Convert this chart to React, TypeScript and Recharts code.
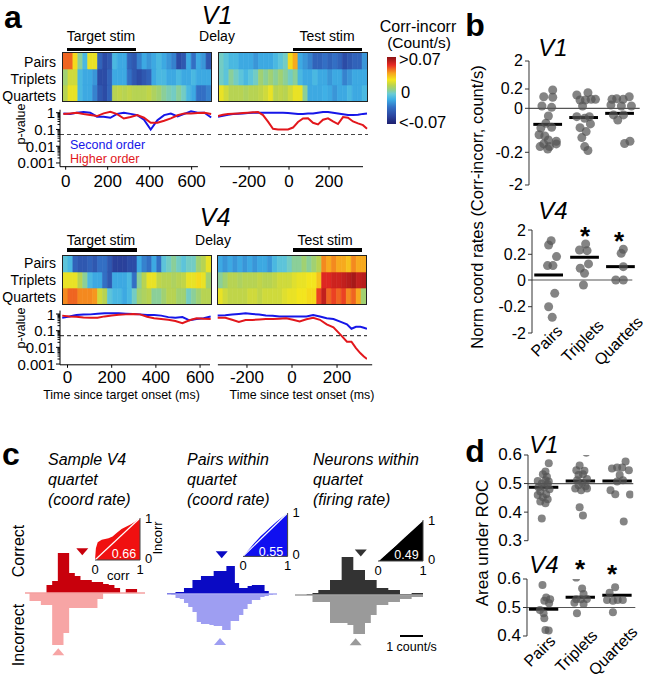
import React from 'react';
import {
  BarChart, Bar, Cell, XAxis, YAxis, LineChart, Line, ReferenceLine,
  ComposedChart, Area, AreaChart, ScatterChart, Scatter, ReferenceDot,
} from 'recharts';

const FONT = '"Liberation Sans", Arial, Helvetica, sans-serif';
const BLUE = '#1616e8';
const RED = '#e2171c';

// ---------- panel a: heat maps, corr - incorr (count/s), 30 bins per epoch
const V1L_PAIRS = [0.045, 0.045, 0.025, 0.0, -0.015, 0.02, 0.02, -0.04, -0.05, -0.045, -0.015, -0.02, -0.02, -0.04, -0.045, -0.03, -0.02, -0.025, -0.02, -0.015, -0.02, -0.025, -0.03, -0.05, -0.045, -0.02, -0.035, -0.02, -0.025, -0.045];
const V1L_TRIP = [0.005, 0.015, 0.015, -0.015, -0.02, -0.02, -0.025, -0.05, -0.05, -0.04, -0.02, -0.02, -0.02, -0.035, -0.045, -0.05, -0.045, -0.04, -0.02, -0.015, -0.015, -0.02, -0.02, -0.015, -0.02, -0.02, -0.015, -0.02, -0.02, -0.02];
const V1L_QUAR = [0.01, 0.02, 0.02, -0.015, -0.02, -0.02, -0.03, -0.045, -0.05, -0.04, 0.01, 0.012, 0.01, 0.012, 0.01, 0.01, 0.01, 0.012, 0.008, 0.005, 0.0, -0.003, -0.005, 0.0, -0.005, -0.015, -0.02, -0.035, -0.035, -0.03];
const V1R_PAIRS = [-0.005, -0.01, -0.015, -0.015, -0.02, -0.02, -0.02, -0.025, -0.02, -0.02, -0.02, -0.015, -0.01, -0.005, 0.025, 0.035, -0.02, -0.025, -0.03, -0.04, -0.04, -0.035, -0.04, -0.035, -0.04, -0.05, -0.045, -0.04, -0.04, -0.025];
const V1R_TRIP = [-0.005, -0.01, 0.0, -0.005, -0.01, -0.015, -0.01, -0.005, 0.005, 0.0, 0.005, 0.0, 0.005, 0.0, -0.005, 0.0, -0.015, -0.02, -0.02, -0.015, -0.02, -0.02, -0.025, -0.02, -0.02, -0.03, -0.025, -0.02, -0.02, -0.02];
const V1R_QUAR = [0.02, 0.015, 0.01, 0.01, 0.01, 0.008, 0.01, 0.01, 0.012, 0.015, 0.02, 0.01, 0.012, 0.01, 0.015, 0.02, 0.02, 0.0, -0.02, -0.02, -0.02, -0.018, -0.02, -0.025, -0.02, -0.02, -0.015, -0.02, -0.02, -0.015];
const V4L_PAIRS = [-0.01, -0.015, -0.04, -0.045, -0.045, -0.04, -0.045, -0.035, -0.035, -0.045, -0.055, -0.055, -0.055, -0.05, -0.05, -0.02, -0.03, -0.035, -0.02, -0.035, -0.01, -0.005, 0.0, -0.005, -0.01, -0.005, -0.005, 0.005, 0.01, 0.02];
const V4L_TRIP = [0.02, 0.02, 0.02, 0.01, 0.0, -0.015, -0.02, -0.02, -0.035, -0.045, -0.02, -0.02, -0.02, -0.015, -0.035, 0.0, 0.01, 0.02, 0.02, 0.012, 0.01, 0.01, 0.008, 0.01, 0.012, 0.02, 0.02, 0.025, 0.02, 0.005];
const V4L_QUAR = [0.04, 0.045, 0.045, 0.04, 0.04, 0.04, 0.038, 0.015, 0.01, -0.01, -0.015, -0.015, -0.02, -0.015, -0.005, 0.005, 0.008, 0.01, 0.0, 0.0, 0.005, 0.01, 0.01, 0.005, 0.005, -0.005, 0.0, 0.005, 0.01, 0.01];
const V4R_PAIRS = [-0.02, -0.025, -0.02, -0.025, -0.02, -0.025, -0.02, -0.025, -0.02, -0.02, -0.025, -0.015, -0.01, -0.01, -0.005, 0.0, 0.0, 0.005, 0.0, 0.005, 0.01, 0.04, 0.035, 0.04, 0.035, 0.035, 0.03, 0.04, 0.035, 0.035];
const V4R_TRIP = [0.0, 0.005, 0.01, 0.01, 0.008, 0.01, 0.01, 0.01, 0.012, 0.01, 0.01, 0.012, 0.015, 0.015, 0.015, 0.018, 0.02, 0.02, 0.022, 0.022, 0.03, 0.055, 0.055, 0.058, 0.058, 0.06, 0.062, 0.065, 0.06, 0.062];
const V4R_QUAR = [0.02, 0.015, 0.012, 0.012, 0.012, 0.012, 0.015, 0.015, 0.012, 0.015, 0.015, 0.015, 0.015, 0.018, 0.02, 0.02, 0.022, 0.022, 0.025, 0.025, 0.05, 0.06, 0.045, 0.05, 0.045, 0.05, 0.04, 0.045, 0.035, 0.005];

// ---------- panel a: p-values (second order = blue, higher order = red)
const V1L_T = [-11, 21, 53, 85, 117, 149, 181, 213, 245, 277, 309, 341, 373, 405, 437, 469, 501, 533, 565, 597, 629, 661, 693];
const V1L_B = [0.91, 0.83, 1.0, 1.1, 1.0, 0.58, 0.58, 0.5, 0.85, 1.0, 0.85, 0.72, 0.38, 0.1, 0.36, 0.72, 0.9, 0.6, 0.85, 1.2, 1.0, 1.0, 0.52];
const V1L_R = [0.83, 0.91, 1.0, 0.83, 0.72, 0.63, 0.91, 1.15, 0.83, 0.45, 0.55, 0.72, 0.5, 0.25, 0.25, 0.33, 0.46, 0.7, 0.91, 0.91, 0.95, 1.0, 0.83];
const V1R_T = [-355, -330, -305, -280, -255, -230, -205, -180, -155, -130, -105, -80, -55, -30, -5, 20, 45, 70, 95, 120, 145, 170, 195, 220, 245, 270, 295, 320, 345, 370, 390];
const V1R_B = [0.58, 0.65, 0.75, 0.83, 0.87, 0.91, 0.95, 1.0, 1.0, 1.0, 1.0, 1.0, 1.0, 1.0, 0.95, 0.9, 0.83, 0.85, 0.9, 0.91, 1.0, 1.1, 1.1, 1.0, 0.9, 0.8, 0.72, 0.72, 0.75, 0.85, 0.9];
const V1R_R = [0.63, 0.75, 0.83, 0.88, 0.91, 0.95, 1.0, 1.05, 1.1, 0.72, 0.29, 0.11, 0.1, 0.1, 0.1, 0.13, 0.28, 0.45, 0.46, 0.25, 0.2, 0.38, 0.46, 0.3, 0.21, 0.55, 0.5, 0.3, 0.23, 0.18, 0.11];
const V4L_T = [-24, 8, 40, 72, 104, 136, 168, 200, 232, 264, 296, 328, 360, 392, 424, 456, 488, 520, 552, 584, 616, 648];
const V4L_B = [0.6, 0.7, 0.87, 0.92, 0.95, 1.05, 1.1, 1.1, 1.1, 1.05, 1.0, 0.95, 0.87, 0.87, 0.8, 0.65, 0.6, 0.65, 0.42, 0.5, 0.55, 0.7];
const V4L_R = [0.8, 0.72, 0.69, 0.62, 0.6, 0.6, 0.72, 0.82, 0.9, 0.95, 1.0, 0.95, 0.69, 0.55, 0.5, 0.45, 0.38, 0.28, 0.42, 0.55, 0.52, 0.5];
const V4R_T = [-330, -296, -266, -236, -206, -176, -146, -116, -86, -56, -26, 4, 34, 64, 94, 124, 154, 184, 214, 244, 264, 284, 304, 319, 333];
const V4R_B = [0.8, 0.85, 0.92, 1.0, 1.1, 1.0, 0.92, 0.82, 0.78, 0.72, 0.7, 0.7, 0.7, 0.72, 0.87, 0.7, 0.56, 0.5, 0.35, 0.24, 0.13, 0.17, 0.17, 0.15, 0.13];
const V4R_R = [0.6, 0.6, 0.45, 0.33, 0.44, 0.44, 0.47, 0.5, 0.5, 0.52, 0.55, 0.45, 0.36, 0.48, 0.6, 0.45, 0.24, 0.16, 0.06, 0.022, 0.022, 0.009, 0.0044, 0.0028, 0.002];

// ---------- panel b: norm coord rates, [jitter, value]
const CATS = ['Pairs', 'Triplets', 'Quartets'];
const B_TICKS = [-2, -0.2, 0, 0.2, 2];
const B_V1_PAIRS = [[0.14, 0.19], [-0.11, 0.12], [0.14, 0.114], [-0.16, 0.024], [0.11, 0.01], [0.02, -0.035], [-0.05, -0.068], [-0.19, -0.09], [0.11, -0.086], [-0.24, -0.12], [-0.08, -0.126], [0.02, -0.144], [0.24, -0.15], [-0.11, -0.162], [0.24, -0.162], [-0.21, -0.174], [0.05, -0.174], [0, -0.185]];
const B_V1_TRIP = [[-0.19, 0.138], [0.12, 0.162], [-0.1, 0.086], [0.05, 0.086], [0.21, 0.093], [0.33, 0.093], [-0.03, 0.024], [-0.19, -0.038], [0.03, -0.045], [0.16, -0.038], [0.19, -0.071], [-0.1, -0.088], [0.07, -0.106], [-0.05, -0.133], [0.03, -0.174], [0.12, -0.192]];
const B_V1_QUAR = [[-0.21, 0.093], [-0.08, 0.1], [0.1, 0.093], [0.27, 0.12], [-0.24, 0.034], [0.05, 0.024], [0.33, 0.024], [-0.17, -0.03], [0.11, -0.03], [-0.05, -0.053], [0.29, -0.15], [0.14, -0.16]];
const B_V1_MEANS = [-0.073, -0.042, -0.023];
const B_V4_PAIRS = [[0.07, 1.21], [0, 0.89], [0.22, 0.182], [-0.03, 0.112], [0.12, 0.112], [0.17, -0.1], [0, -0.2], [0.1, -0.92]];
const B_V4_TRIP = [[0.03, 0.96], [-0.14, 0.52], [0.07, 0.47], [0.11, 0.125], [-0.12, 0.091], [0, 0.052], [-0.03, -0.0375]];
const B_V4_QUAR = [[0.08, 0.57], [0.02, 0.27], [0.08, 0.104], [-0.13, 0], [0.08, 0]];
const B_V4_MEANS = [0.039, 0.177, 0.104];

// ---------- panel d: area under ROC, [jitter, value]
const D_V1_PAIRS = [[0.14, 0.571], [0.05, 0.542], [-0.02, 0.533], [0.09, 0.524], [-0.16, 0.509], [0.05, 0.512], [-0.05, 0.5], [0.11, 0.498], [-0.14, 0.487], [0.02, 0.487], [0.16, 0.48], [-0.09, 0.472], [0.07, 0.463], [-0.16, 0.46], [-0.02, 0.452], [0.11, 0.445], [-0.09, 0.437], [0.05, 0.431], [0.14, 0.507], [-0.05, 0.378]];
const D_V1_TRIP = [[0.16, 0.608], [-0.02, 0.563], [-0.11, 0.547], [0.11, 0.545], [-0.05, 0.53], [0.07, 0.533], [0.18, 0.516], [-0.09, 0.512], [0.05, 0.503], [-0.05, 0.494], [0.14, 0.491], [-0.14, 0.483], [0.02, 0.477], [0.18, 0.483], [-0.02, 0.417], [0.07, 0.388]];
const D_V1_QUAR = [[0.23, 0.577], [0, 0.556], [0.14, 0.556], [-0.14, 0.553], [0.32, 0.547], [0.07, 0.53], [0, 0.507], [0.16, 0.512], [-0.18, 0.477], [-0.05, 0.463], [0.35, 0.462], [0.18, 0.367]];
const D_V1_MEANS = [0.487, 0.509, 0.509];
const D_V4_PAIRS = [[-0.03, 0.579], [0.07, 0.535], [0.18, 0.529], [0.02, 0.524], [0.15, 0.515], [-0.1, 0.491], [0, 0.48], [0.02, 0.462], [0.05, 0.421], [0.14, 0.419]];
const D_V4_TRIP = [[-0.11, 0.605], [0.05, 0.567], [0.09, 0.547], [-0.11, 0.529], [0.02, 0.529], [0.18, 0.53], [-0.16, 0.517], [0.09, 0.512], [-0.09, 0.48]];
const D_V4_QUAR = [[-0.05, 0.571], [-0.2, 0.552], [-0.27, 0.526], [-0.11, 0.524], [0.02, 0.526], [0.16, 0.526], [-0.11, 0.483]];
const D_V4_MEANS = [0.494, 0.536, 0.543];

// ---------- panel c: histograms (counts per bin), correct / incorrect
const RED_CORR = [0, 0, 0, 8, 12, 40, 40, 20, 17, 13, 13, 11, 11, 9, 8, 5, 0, 4, 4, 0];
const RED_INC = [8, 8, 12, 12, 52, 52, 40, 15, 15, 15, 15, 15, 6, 0, 0, 0, 0, 0, 0, 0];
const BLUE_CORR = [1, 1, 2, 2, 6, 6, 14, 14, 18, 18, 18, 23, 23, 23, 28, 28, 11, 6, 6, 8, 9, 9, 9, 3, 0, 0];
const BLUE_INC = [0, 1, 4, 5, 9, 13, 18, 28, 30, 30, 31, 32, 32, 36, 36, 27, 27, 21, 15, 10, 6, 6, 3, 2, 1, 0];
const BLACK_CORR = [0, 0, 1, 2, 5, 5, 15, 15, 38, 38, 25, 25, 15, 15, 7, 7, 5, 5, 1, 1, 2, 2];
const BLACK_INC = [0, 0, 0, 7, 7, 7, 28, 28, 28, 30, 39, 39, 28, 20, 10, 10, 7, 7, 4, 4, 2, 2];
const HIST_MEANS = { red: [2.33, 1.27], blue: [2.58, 2.5], black: [2.82, 2.6] };

// ROC curves for the insets
const RED_ROC_X = [0, 0.02, 0.06, 0.15, 0.3, 0.39, 0.48, 0.59, 0.7, 0.81, 0.93, 1];
const RED_ROC_Y = [0, 0.28, 0.42, 0.48, 0.52, 0.56, 0.64, 0.74, 0.8, 0.86, 0.94, 1];
const BLUE_ROC_X = [0, 0.1, 0.25, 0.4, 0.5, 0.6, 0.75, 0.9, 1];
const BLUE_ROC_Y = [0, 0.12, 0.3, 0.47, 0.56, 0.66, 0.8, 0.92, 1];
const BLACK_ROC_X = [0, 0.2, 0.4, 0.6, 0.8, 1];
const BLACK_ROC_Y = [0, 0.19, 0.38, 0.6, 0.79, 1];

// jet-like colormap, sampled from the colour bar
const CMAP = [
  [0.0, 29, 31, 110], [0.12, 43, 69, 160], [0.25, 51, 111, 196], [0.37, 62, 176, 230],
  [0.45, 105, 203, 214], [0.52, 152, 208, 128], [0.58, 188, 212, 76], [0.66, 245, 230, 28],
  [0.76, 247, 163, 30], [0.88, 232, 42, 36], [1.0, 139, 18, 20],
];
function cmapAt(t: number) {
  for (let i = 1; i < CMAP.length; i++) {
    if (t <= CMAP[i][0]) {
      const a = CMAP[i - 1], b = CMAP[i];
      const f = (t - a[0]) / (b[0] - a[0]);
      const c = [1, 2, 3].map((k) => Math.round(a[k] + f * (b[k] - a[k])));
      return `rgb(${c[0]},${c[1]},${c[2]})`;
    }
  }
  return 'rgb(139,18,20)';
}
const heat = (v: number) => cmapAt(Math.max(0, Math.min(1, (v + 0.07) / 0.14)));

const LOG_MAJOR = [0.001, 0.01, 0.1, 1];
const LOG_TICKS: number[] = [];
[0.001, 0.01, 0.1].forEach((d) => { for (let m = 1; m < 10; m++) LOG_TICKS.push(+(m * d).toPrecision(3)); });
LOG_TICKS.push(1);

function Txt({ x, y, size = 14, children, anchor = 'middle', italic = false, bold = false, color = '#000', rotate = 0 }: any) {
  const tx = anchor === 'middle' ? '-50%' : anchor === 'end' ? '-100%' : '0';
  return (
    <div style={{
      position: 'absolute', left: x, top: y, fontSize: size, lineHeight: 1, whiteSpace: 'nowrap', color,
      fontStyle: italic ? 'italic' : 'normal', fontWeight: bold ? 'bold' : 'normal',
      transform: `translate(${tx},-50%)${rotate ? ` rotate(${rotate}deg)` : ''}`,
    }}>{children}</div>
  );
}

function Heatmap({ left, top, rows }: any) {
  const data = rows[0].map((_: number, i: number) => ({ i, p: 1, t: 1, q: 1 }));
  const keys = ['q', 't', 'p'];
  return (
    <div style={{ position: 'absolute', left, top, width: 150, height: 50, border: '1px solid #222', boxSizing: 'border-box' }}>
      <BarChart width={148} height={48} data={data} margin={{ top: 0, right: 0, bottom: 0, left: 0 }} barCategoryGap={0} barGap={0}>
        <XAxis dataKey="i" hide />
        <YAxis hide domain={[0, 3]} />
        {keys.map((k, r) => (
          <Bar key={k} dataKey={k} stackId="s" isAnimationActive={false}>
            {rows[2 - r].map((v: number, i: number) => <Cell key={i} fill={heat(v)} stroke={heat(v)} strokeWidth={0.6} />)}
          </Bar>
        ))}
      </BarChart>
    </div>
  );
}

const LogTick = (p: any) => {
  const v = p.payload.value;
  const major = LOG_MAJOR.includes(v);
  return (
    <g>
      <line x1={p.x} x2={p.x - (major ? 4 : 2.5)} y1={p.y} y2={p.y} stroke="#000" />
      {major && <text x={p.x - 5} y={p.y} textAnchor="end" dominantBaseline="central" fontSize={15} fill="#000">{String(v)}</text>}
    </g>
  );
};

const XTick = (p: any) => (
  <g>
    <line x1={p.x} x2={p.x} y1={p.y} y2={p.y + 3} stroke="#000" />
    <text x={p.x} y={p.y + p.oy} textAnchor="middle" dominantBaseline="central" fontSize={17} fill="#000">{p.payload.value}</text>
  </g>
);

function PChart({ left, top, width, mt, mr, plotH, xh, showY, xDomain, yDomain, t, blue, red, xTicks, axisSeg, oy }: any) {
  const data = t.map((tt: number, i: number) => ({ t: tt, b: blue[i], r: red[i] }));
  return (
    <div style={{ position: 'absolute', left, top }}>
      <LineChart width={width} height={mt + plotH + xh} data={data} margin={{ top: mt, right: mr, bottom: 0, left: 0 }}>
        <XAxis dataKey="t" type="number" domain={xDomain} allowDataOverflow ticks={xTicks} interval={0} height={xh}
          axisLine={false} tickLine={false} tickSize={0} tickMargin={0} tick={<XTick oy={oy} />} />
        <YAxis type="number" scale="log" domain={yDomain} allowDataOverflow hide={!showY} width={60} ticks={LOG_TICKS}
          interval={0} axisLine={{ stroke: '#000' }} tickLine={false} tickSize={0} tickMargin={0} tick={<LogTick />} />
        <ReferenceLine y={0.05} stroke="#444" strokeDasharray="4 3" strokeWidth={1.2} />
        <ReferenceLine segment={[{ x: axisSeg[0], y: yDomain[0] }, { x: axisSeg[1], y: yDomain[0] }]} stroke="#000" ifOverflow="visible" />
        <Line type="linear" dataKey="b" stroke={BLUE} strokeWidth={2} dot={false} isAnimationActive={false} />
        <Line type="linear" dataKey="r" stroke={RED} strokeWidth={2} dot={false} isAnimationActive={false} />
      </LineChart>
    </div>
  );
}

const ValTick = (p: any) => (
  <g>
    <line x1={p.x} x2={p.x - 4} y1={p.y} y2={p.y} stroke="#333" />
    <text x={p.x - 6} y={p.y} textAnchor="end" dominantBaseline="central" fontSize={p.fs} fill="#000">{p.labels[p.index]}</text>
  </g>
);

const CatTick = (p: any) => {
  const cx = p.x + p.ox, cy = p.y + p.oy;
  return (
    <text x={cx} y={cy} textAnchor="middle" dominantBaseline="central" fontSize={16} fill="#000"
      transform={`rotate(-45 ${cx} ${cy})`}>{CATS[p.payload.value - 1]}</text>
  );
};

function DotChart({ left, plotTop, width, mr, plotH, xh = 0, xDomain, yDomain, yTicks, yLabels, groups, means, refY, f, r, fs, showCats, ox = 0, oy = 0 }: any) {
  const pts = groups.flatMap((g: number[][], gi: number) => g.map(([dx, v]) => ({ x: gi + 1 + dx, y: f(v) })));
  const dot = (p: any) => <circle cx={p.cx} cy={p.cy} r={r} fill="#555" fillOpacity={0.72} />;
  const mt = 12;
  const mb = showCats ? 0 : 12;
  return (
    <div style={{ position: 'absolute', left, top: plotTop - mt }}>
      <ScatterChart width={width} height={mt + plotH + xh + mb} margin={{ top: mt, right: mr, bottom: mb, left: 0 }}>
        <XAxis type="number" dataKey="x" domain={xDomain} allowDataOverflow hide={!showCats} height={xh} ticks={[1, 2, 3]}
          interval={0} axisLine={false} tickLine={false} tickSize={0} tickMargin={0} tick={<CatTick ox={ox} oy={oy} />} />
        <YAxis type="number" dataKey="y" domain={yDomain} allowDataOverflow width={60} ticks={yTicks.map(f)} interval={0}
          axisLine={{ stroke: '#333' }} tickLine={false} tickSize={0} tickMargin={0} tick={<ValTick labels={yLabels} fs={fs} />} />
        <ReferenceLine y={f(refY)} stroke="#555" strokeWidth={1.2} />
        <Scatter data={pts} shape={dot} isAnimationActive={false} />
        {means.map((m: number, i: number) => (
          <ReferenceLine key={i} segment={[{ x: i + 0.6, y: f(m) }, { x: i + 1.4, y: f(m) }]} stroke="#000" strokeWidth={3} ifOverflow="visible" />
        ))}
      </ScatterChart>
    </div>
  );
}

// axis layout of panel b (the printed axis is not linear): px above the -2 tick
const B1_AXIS_PX = [0, 32.7, 76.7, 96, 124];
const B4_AXIS_PX = [0, 26.3, 53, 78.7, 103];
const warp = (px: number[]) => (v: number) => {
  for (let i = 1; i < B_TICKS.length; i++) {
    if (v <= B_TICKS[i]) {
      const f = (v - B_TICKS[i - 1]) / (B_TICKS[i] - B_TICKS[i - 1]);
      return px[i - 1] + f * (px[i] - px[i - 1]);
    }
  }
  return px[px.length - 1];
};
const ident = (v: number) => v;

const tri = (color: string, down: boolean) => (p: any) => {
  const { cx, cy } = p;
  const pts = down
    ? `${cx - 6},${cy - 3.5} ${cx + 6},${cy - 3.5} ${cx},${cy + 3.5}`
    : `${cx - 6},${cy + 3.5} ${cx + 6},${cy + 3.5} ${cx},${cy - 3.5}`;
  return <polygon points={pts} fill={color} />;
};

function Hist({ left, top, width, xDomain, binW, corr, inc, dark, light, base, means, levelC, levelI, scaleBar }: any) {
  const data = corr.map((c: number, k: number) => ({ x: k * binW, c, i: -inc[k] }));
  data.push({ x: corr.length * binW, c: 0, i: 0 });
  return (
    <div style={{ position: 'absolute', left, top }}>
      <ComposedChart width={width} height={116} data={data} margin={{ top: 0, right: 0, bottom: 0, left: 0 }}>
        <XAxis type="number" dataKey="x" domain={xDomain} allowDataOverflow hide />
        <YAxis type="number" domain={[-66, 50]} allowDataOverflow hide />
        <Area type="stepAfter" dataKey="c" fill={dark} fillOpacity={1} stroke="none" baseValue={0} isAnimationActive={false} />
        <Area type="stepAfter" dataKey="i" fill={light} fillOpacity={1} stroke="none" baseValue={0} isAnimationActive={false} />
        <ReferenceLine y={0} stroke={base} strokeWidth={1.5} />
        <ReferenceDot x={means[0]} y={levelC} shape={tri(dark, true)} ifOverflow="visible" />
        <ReferenceDot x={means[1]} y={levelI} shape={tri(light, false)} ifOverflow="visible" />
        {scaleBar && <ReferenceLine segment={[{ x: 4.5, y: -41 }, { x: 5.5, y: -41 }]} stroke="#000" strokeWidth={2} ifOverflow="visible" />}
      </ComposedChart>
    </div>
  );
}

const RocXTick = (p: any) => (
  <text x={p.x} y={p.y + 9} textAnchor="middle" dominantBaseline="central" fontSize={13} fill="#000">{p.payload.value}</text>
);
const RocYTick = (p: any) => (
  <text x={p.x + 5} y={p.payload.value === 0 ? p.y - 2 : p.y} textAnchor="start" dominantBaseline="central" fontSize={13} fill="#000">{p.payload.value}</text>
);

function Roc({ pl, pt, w, h, xs, ys, color }: any) {
  const data = xs.map((x: number, i: number) => ({ x, y: ys[i] }));
  return (
    <div style={{ position: 'absolute', left: pl - 7, top: pt - 8 }}>
      <AreaChart width={7 + w + 16} height={8 + h + 18} data={data} margin={{ top: 8, right: 0, bottom: 0, left: 7 }}>
        <XAxis type="number" dataKey="x" domain={[0, 1]} ticks={[0, 1]} interval={0} height={18} axisLine={{ stroke: '#444' }}
          tickLine={false} tickSize={0} tickMargin={0} tick={<RocXTick />} />
        <YAxis orientation="right" type="number" domain={[0, 1]} ticks={[0, 1]} interval={0} width={16} axisLine={{ stroke: '#444' }}
          tickLine={false} tickSize={0} tickMargin={0} tick={<RocYTick />} />
        <Area type="linear" dataKey="y" fill={color} fillOpacity={1} stroke="none" baseValue={0} isAnimationActive={false} />
        <ReferenceLine segment={[{ x: 0, y: 0 }, { x: 1, y: 1 }]} stroke="#fff" strokeWidth={1.2} />
      </AreaChart>
    </div>
  );
}

function ColorBar({ left, top, w, h }: any) {
  const stops = CMAP.map((s) => s[0]);
  return (
    <svg style={{ position: 'absolute', left, top }} width={w} height={h}>
      <defs>
        <linearGradient id="cbar" x1="0" y1="1" x2="0" y2="0">
          {stops.map((t, i) => <stop key={i} offset={t} stopColor={cmapAt(t)} />)}
        </linearGradient>
      </defs>
      <rect x={0} y={0} width={w} height={h} fill="url(#cbar)" />
    </svg>
  );
}

const StimBar = ({ x1, x2, y }: any) => (
  <div style={{ position: 'absolute', left: x1, top: y - 1.75, width: x2 - x1, height: 3.5, background: '#000' }} />
);

export default function App() {
  return (
    <div style={{ position: 'absolute', left: 0, top: 0, width: 647, height: 678, background: '#fff', fontFamily: FONT, overflow: 'hidden' }}>
      {/* ---------- panel a ---------- */}
      <Txt x={13} y={17} size={32} bold>a</Txt>
      <Txt x={217} y={14.5} size={25} italic>V1</Txt>
      <Txt x={101} y={36} size={14}>Target stim</Txt>
      <Txt x={217} y={36} size={14}>Delay</Txt>
      <Txt x={327} y={36} size={14}>Test stim</Txt>
      <StimBar x1={66.7} x2={136} y={49.3} />
      <StimBar x1={292.7} x2={361.7} y={49.3} />
      <Txt x={56} y={61.7} anchor="end">Pairs</Txt>
      <Txt x={56} y={79} anchor="end">Triplets</Txt>
      <Txt x={56} y={95.7} anchor="end">Quartets</Txt>
      <Heatmap left={62} top={52} rows={[V1L_PAIRS, V1L_TRIP, V1L_QUAR]} />
      <Heatmap left={218} top={52} rows={[V1R_PAIRS, V1R_TRIP, V1R_QUAR]} />

      <Txt x={418} y={27} size={16}>Corr-incorr</Txt>
      <Txt x={419} y={43} size={15.5}>(Count/s)</Txt>
      <ColorBar left={387} top={57} w={9} h={67} />
      <Txt x={399} y={59} size={16.5} anchor="start">&gt;0.07</Txt>
      <Txt x={401} y={92} size={16.5} anchor="start">0</Txt>
      <Txt x={399} y={122} size={16.5} anchor="start">&lt;-0.07</Txt>

      <PChart left={0} top={100} width={215} mt={9.75} mr={3} plotH={56.95} xh={33.3} showY xDomain={[-27, 697]}
        yDomain={[0.0006, 1.5]} t={V1L_T} blue={V1L_B} red={V1L_R} xTicks={[0, 200, 400, 600]} axisSeg={[-27, 630]} oy={15} />
      <PChart left={218} top={100} width={150} mt={9.75} mr={0} plotH={56.95} xh={33.3} showY={false} xDomain={[-355, 395]}
        yDomain={[0.0006, 1.5]} t={V1R_T} blue={V1R_B} red={V1R_R} xTicks={[-200, 0, 200]} axisSeg={[-345, 370]} oy={15} />
      <Txt x={21} y={124} size={12.5} rotate={-90}>p-value</Txt>
      <Txt x={70} y={144.5} size={12.5} anchor="start" color={BLUE}>Second order</Txt>
      <Txt x={70} y={158.5} size={12.5} anchor="start" color={RED}>Higher order</Txt>

      <Txt x={215} y={217} size={25} italic>V4</Txt>
      <Txt x={101} y={240} size={14}>Target stim</Txt>
      <Txt x={213} y={240} size={14}>Delay</Txt>
      <Txt x={325} y={240} size={14}>Test stim</Txt>
      <StimBar x1={66.7} x2={136.7} y={250} />
      <StimBar x1={293} x2={361.7} y={250} />
      <Txt x={56} y={263.3} anchor="end">Pairs</Txt>
      <Txt x={56} y={280} anchor="end">Triplets</Txt>
      <Txt x={56} y={296.7} anchor="end">Quartets</Txt>
      <Heatmap left={62} top={255} rows={[V4L_PAIRS, V4L_TRIP, V4L_QUAR]} />
      <Heatmap left={217} top={255} rows={[V4R_PAIRS, V4R_TRIP, V4R_QUAR]} />

      <PChart left={0} top={300} width={215} mt={10.6} mr={3} plotH={54.2} xh={35.2} showY xDomain={[-34, 654]}
        yDomain={[0.0009, 1.6]} t={V4L_T} blue={V4L_B} red={V4L_R} xTicks={[0, 200, 400, 600]} axisSeg={[-34, 645]} oy={13} />
      <PChart left={217} top={300} width={158} mt={10.6} mr={8} plotH={54.2} xh={35.2} showY={false} xDomain={[-333, 333]}
        yDomain={[0.0009, 1.6]} t={V4R_T} blue={V4R_B} red={V4R_R} xTicks={[-200, 0, 200]} axisSeg={[-329, 356]} oy={13} />
      <Txt x={21} y={328} size={12.5} rotate={-90}>p-value</Txt>
      <Txt x={121.5} y={395} size={12.4}>Time since target onset (ms)</Txt>
      <Txt x={302} y={395} size={12.4}>Time since test onset (ms)</Txt>

      {/* ---------- panel b ---------- */}
      <Txt x={475} y={25} size={32} bold>b</Txt>
      <Txt x={553} y={48} size={24} italic>V1</Txt>
      <DotChart left={469.3} plotTop={61} width={175.7} mr={5} plotH={124} xDomain={[0.48, 3.56]} yDomain={[0, 124]}
        yTicks={B_TICKS} yLabels={['-2', '-0.2', '0', '0.2', '2']} groups={[B_V1_PAIRS, B_V1_TRIP, B_V1_QUAR]}
        means={B_V1_MEANS} refY={0} f={warp(B1_AXIS_PX)} r={4.5} fs={16} showCats={false} />
      <Txt x={553} y={211} size={24} italic>V4</Txt>
      <DotChart left={471.7} plotTop={230} width={175} mr={14.7} plotH={103} xh={45} xDomain={[0.537, 3.33]} yDomain={[0, 103]}
        yTicks={B_TICKS} yLabels={['-2', '-0.2', '0', '0.2', '2']} groups={[B_V4_PAIRS, B_V4_TRIP, B_V4_QUAR]}
        means={B_V4_MEANS} refY={0} f={warp(B4_AXIS_PX)} r={4.5} fs={16} showCats ox={-2} oy={8} />
      <Txt x={585} y={235.5} size={26} bold>*</Txt>
      <Txt x={619} y={240.5} size={26} bold>*</Txt>
      <Txt x={477} y={207} size={16.5} rotate={-90}>Norm coord rates (Corr-incorr, count/s)</Txt>

      {/* ---------- panel c ---------- */}
      <Txt x={11} y={453.5} size={32} bold>c</Txt>
      <Txt x={48} y={460} size={16} italic anchor="start">Sample V4</Txt>
      <Txt x={48} y={480} size={16} italic anchor="start">quartet</Txt>
      <Txt x={48} y={500} size={16} italic anchor="start">(coord rate)</Txt>
      <Txt x={187} y={460} size={16} italic anchor="start">Pairs within</Txt>
      <Txt x={187} y={480} size={16} italic anchor="start">quartet</Txt>
      <Txt x={187} y={500} size={16} italic anchor="start">(coord rate)</Txt>
      <Txt x={313} y={460} size={16} italic anchor="start">Neurons within</Txt>
      <Txt x={313} y={480} size={16} italic anchor="start">quartet</Txt>
      <Txt x={313} y={500} size={16} italic anchor="start">(firing rate)</Txt>
      <Txt x={19} y={551} size={16} rotate={-90}>Correct</Txt>
      <Txt x={19} y={635} size={16} rotate={-90}>Incorrect</Txt>

      <Hist left={25} top={543.3} width={120} xDomain={[-0.2, 5.1]} binW={0.25} corr={RED_CORR} inc={RED_INC}
        dark="#c8000c" light="#f7a5a5" base="#f4a0a0" means={HIST_MEANS.red} levelC={41.3} levelI={-58.7} />
      <Hist left={167} top={544.3} width={110.3} xDomain={[0, 5.2]} binW={0.2} corr={BLUE_CORR} inc={BLUE_INC}
        dark="#0a0ac4" light="#9e9ef2" base="#a8a8f2" means={HIST_MEANS.blue} levelC={39.3} levelI={-47.4} />
      <Hist left={295} top={545} width={128.3} xDomain={[0, 5.5]} binW={0.25} corr={BLACK_CORR} inc={BLACK_INC}
        dark="#333333" light="#9a9a9a" base="#a0a0a0" means={HIST_MEANS.black} levelC={42} levelI={-46.7} scaleBar />
      <Txt x={411.5} y={647} size={12.5}>1 count/s</Txt>

      <Roc pl={95} pt={518} w={45} h={42} xs={RED_ROC_X} ys={RED_ROC_Y} color="#f01010" />
      <Roc pl={242.7} pt={513.3} w={44.6} h={43.4} xs={BLUE_ROC_X} ys={BLUE_ROC_Y} color="#1010f0" />
      <Roc pl={378.3} pt={520} w={45} h={41} xs={BLACK_ROC_X} ys={BLACK_ROC_Y} color="#000000" />
      <Txt x={124} y={554} size={12.5} color="#fff">0.66</Txt>
      <Txt x={271} y={551.5} size={12.5} color="#fff">0.55</Txt>
      <Txt x={406.5} y={555} size={12.5} color="#fff">0.49</Txt>
      <Txt x={118.3} y={575} size={13}>corr</Txt>
      <Txt x={157} y={538} size={13} rotate={-90}>Incorr</Txt>

      {/* ---------- panel d ---------- */}
      <Txt x={475} y={451} size={32} bold>d</Txt>
      <Txt x={544} y={445} size={24} italic>V1</Txt>
      <DotChart left={467.7} plotTop={455} width={175.3} mr={10} plotH={85.7} xDomain={[0.575, 3.44]} yDomain={[0.3, 0.6]}
        yTicks={[0.3, 0.4, 0.5, 0.6]} yLabels={['0.3', '0.4', '0.5', '0.6']} groups={[D_V1_PAIRS, D_V1_TRIP, D_V1_QUAR]}
        means={D_V1_MEANS} refY={0.5} f={ident} r={4} fs={17} showCats={false} />
      <Txt x={544} y={564.5} size={24} italic>V4</Txt>
      <DotChart left={466.7} plotTop={579} width={178.3} mr={10} plotH={57} xh={42} xDomain={[0.548, 3.5]} yDomain={[0.4, 0.6]}
        yTicks={[0.4, 0.5, 0.6]} yLabels={['0.4', '0.5', '0.6']} groups={[D_V4_PAIRS, D_V4_TRIP, D_V4_QUAR]}
        means={D_V4_MEANS} refY={0.5} f={ident} r={4} fs={17} showCats ox={-4} oy={15} />
      <Txt x={580} y={569} size={26} bold>*</Txt>
      <Txt x={612} y={574} size={26} bold>*</Txt>
      <Txt x={482} y={543} size={17} rotate={-90}>Area under ROC</Txt>
    </div>
  );
}
